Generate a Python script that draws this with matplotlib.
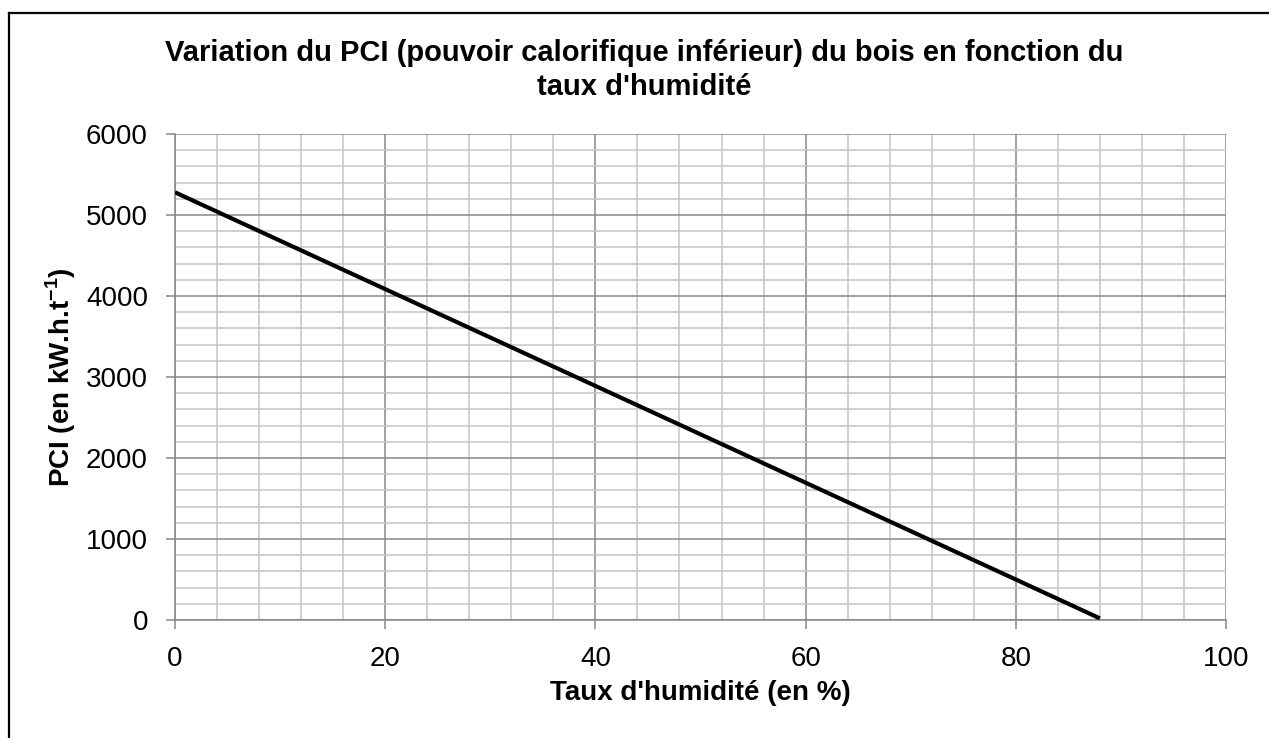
"""
PCI du bois en fonction du taux d'humidite - style tableur.
"""

import matplotlib
matplotlib.use("Agg")
import matplotlib.pyplot as plt
from matplotlib.lines import Line2D
from matplotlib.ticker import MultipleLocator

plt.rcParams["font.family"] = ["Liberation Sans", "DejaVu Sans"]
plt.rcParams["mathtext.fontset"] = "custom"
plt.rcParams["mathtext.rm"] = "Liberation Sans"
plt.rcParams["mathtext.bf"] = "Liberation Sans:bold"

# donnees
humidite = [0, 20, 40, 60, 80, 88]
pci = [5280, 4085, 2890, 1695, 500, 20]

x_ticks = [0, 20, 40, 60, 80, 100]
y_ticks = [0, 1000, 2000, 3000, 4000, 5000, 6000]

W, H = 1269, 738
fig = plt.figure(figsize=(W / 100, H / 100), dpi=100)

# cadre exterieur (seuls les bords gauche et haut sont visibles)
fig.add_artist(Line2D([8.5 / W, 8.5 / W], [0, 1 - 13 / H], transform=fig.transFigure,
                      color="black", linewidth=1.6))
fig.add_artist(Line2D([8.5 / W, 1], [1 - 13 / H, 1 - 13 / H], transform=fig.transFigure,
                      color="black", linewidth=1.6))

left, right, top, bottom = 175, 1226, 134, 620
ax = fig.add_axes([left / W, (H - bottom) / H, (right - left) / W, (bottom - top) / H])

ax.plot(humidite, pci, color="black", linewidth=3, solid_capstyle="butt", zorder=3)

ax.set_xlim(0, 100)
ax.set_ylim(0, 6000)
ax.set_xticks(x_ticks)
ax.set_yticks(y_ticks)
ax.xaxis.set_minor_locator(MultipleLocator(4))
ax.yaxis.set_minor_locator(MultipleLocator(200))

ax.grid(True, which="major", color="#888888", linewidth=1.1)
ax.grid(True, which="minor", color="#c4c4c4", linewidth=1.1)
ax.set_axisbelow(True)

for side in ["top", "right"]:
    ax.spines[side].set_visible(False)
for side in ["left", "bottom"]:
    ax.spines[side].set_color("#888888")
    ax.spines[side].set_linewidth(1.1)

ax.tick_params(which="major", direction="out", length=6.5, width=1.1, color="#888888",
               labelsize=20)
ax.tick_params(axis="x", which="major", pad=12)
ax.tick_params(axis="y", which="major", pad=13)
ax.tick_params(which="minor", length=0)

ax.set_xlabel("Taux d'humidité (en %)", fontsize=20, fontweight="bold", labelpad=6)
ax.set_ylabel("PCI (en kW.h.t$^{\\mathbf{-1}}$)", fontsize=20, fontweight="bold", labelpad=6)

fig.text(644 / W, 1 - 61 / H,
         "Variation du PCI (pouvoir calorifique inférieur) du bois en fonction du",
         ha="center", va="baseline", fontsize=21, fontweight="bold")
fig.text(644 / W, 1 - 95 / H, "taux d'humidité",
         ha="center", va="baseline", fontsize=21, fontweight="bold")

fig.savefig("out.png", dpi=100)
